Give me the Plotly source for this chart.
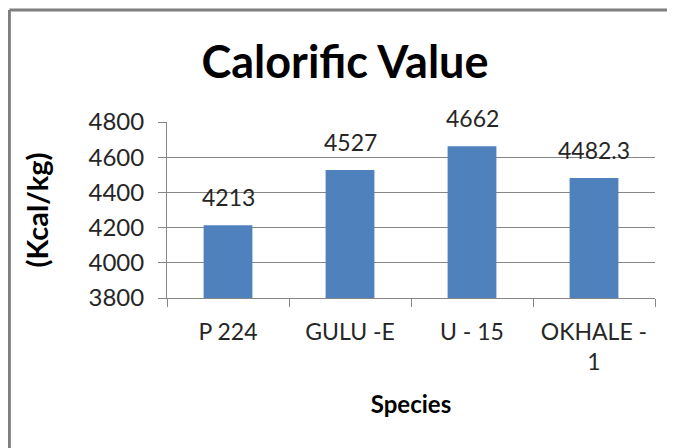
import plotly.graph_objects as go

categories = ["P 224", "GULU -E", "U - 15", "OKHALE -<br>1"]
values = [4213, 4527, 4662, 4482.3]
value_labels = ["4213", "4527", "4662", "4482.3"]
y_ticks = [3800, 4000, 4200, 4400, 4600, 4800]

FONT = "Lato, Open Sans, sans-serif"

fig = go.Figure(go.Bar(
    x=categories, y=values,
    marker=dict(color="#4F81BD", line=dict(width=0)),
    width=0.4,
    cliponaxis=False,
))

for c, v, t in zip(categories, values, value_labels):
    fig.add_annotation(x=c, y=v, text=t, showarrow=False,
                       yanchor="bottom", yshift=12,
                       font=dict(size=23, color="#262626", family=FONT))

fig.update_layout(
    width=659, height=440,
    margin=dict(l=159, r=12, t=114, b=150, autoexpand=False),
    paper_bgcolor="white", plot_bgcolor="white",
    showlegend=False,
    title=dict(text="<b>Calorific Value</b>", x=337 / 659, xanchor="center",
               y=0.877, yanchor="middle", automargin=False,
               font=dict(size=45, color="black", family=FONT)),
    font=dict(family=FONT, color="#262626"),
    xaxis=dict(
        automargin=False,
        showline=True, linecolor="#868686", linewidth=1,
        ticks="outside", ticklen=8, tickcolor="#868686",
        tickson="boundaries", ticklabelstandoff=13,
        tickfont=dict(size=23, color="#262626"),
        title=dict(text="<b>Species</b>", font=dict(size=24, color="black"), standoff=22),
    ),
    yaxis=dict(
        automargin=False,
        range=[3800, 4800], tickvals=y_ticks,
        showgrid=True, gridcolor="#868686", gridwidth=1,
        showline=True, linecolor="#868686", linewidth=1,
        ticks="outside", ticklen=8, tickcolor="#868686",
        ticklabelstandoff=9,
        tickfont=dict(size=24, color="#262626"),
        zeroline=False,
        title=dict(text="<b>(Kcal/kg)</b>", font=dict(size=29, color="black"), standoff=31),
    ),
    shapes=[
        dict(type="line", xref="paper", yref="paper",
             x0=-0.323, x1=-0.323, y0=-2.0, y1=1.636,
             line=dict(color="#7f7f7f", width=3), layer="above"),
        dict(type="line", xref="paper", yref="paper",
             x0=-0.323, x1=1.5, y0=1.636, y1=1.636,
             line=dict(color="#7f7f7f", width=3), layer="above"),
    ],
)

fig.write_html("out.html")
